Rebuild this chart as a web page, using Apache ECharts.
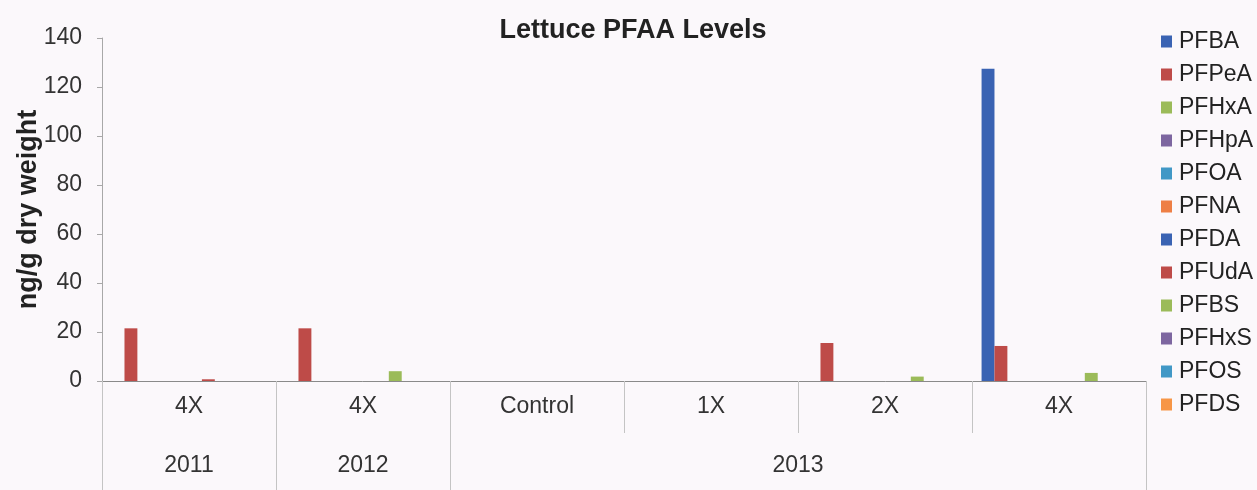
<!DOCTYPE html>
<html>
<head>
<meta charset="utf-8">
<script src="https://cdn.jsdelivr.net/npm/echarts@6/dist/echarts.min.js"></script>
<style>
html,body{margin:0;padding:0;background:#fbf8fb;}
#chart{width:1257px;height:490px;}
</style>
</head>
<body>
<div id="chart"></div>
<script>
// ---- data ----
var categories = ['4X', '4X', 'Control', '1X', '2X', '4X'];
var years = ['2011', '2012', '2013'];
var yearSpans = [1, 1, 4]; // number of categories under each year
var yTicks = [0, 20, 40, 60, 80, 100, 120, 140];

var seriesNames = ['PFBA','PFPeA','PFHxA','PFHpA','PFOA','PFNA','PFDA','PFUdA','PFBS','PFHxS','PFOS','PFDS'];
var PFBA  = [0, 0, 0, 0, 0, 127.5];
var PFPeA = [21.5, 21.5, 0, 0, 15.5, 14.3];
var PFHxA = [0, 0, 0, 0, 0, 0];
var PFHpA = [0, 0, 0, 0, 0, 0];
var PFOA  = [0, 0, 0, 0, 0, 0];
var PFNA  = [0, 0, 0, 0, 0, 0];
var PFDA  = [0, 0, 0, 0, 0, 0];
var PFUdA = [0.7, 0, 0, 0, 0, 0];
var PFBS  = [0, 4.0, 0, 0, 1.8, 3.3];
var PFHxS = [0, 0, 0, 0, 0, 0];
var PFOS  = [0, 0, 0, 0, 0, 0];
var PFDS  = [0, 0, 0, 0, 0, 0];
var seriesValues = [PFBA,PFPeA,PFHxA,PFHpA,PFOA,PFNA,PFDA,PFUdA,PFBS,PFHxS,PFOS,PFDS];

var colors = ['#3a63b3','#be4b48','#9bbb59','#7d66a0','#4198c6','#ee7f45',
              '#3a63b3','#be4b48','#9bbb59','#7d66a0','#4198c6','#f79646'];

// ---- year (second-level) axis built from spans: half-category slots ----
var halfSlots = [];
for (var i = 0; i <= categories.length * 2; i++) halfSlots.push(String(i));
var yearLabelAt = {};
var yearBoundary = {0: true};
var pos = 0;
for (var k = 0; k < years.length; k++) {
  yearLabelAt[pos + yearSpans[k]] = years[k];
  pos += yearSpans[k] * 2;
  yearBoundary[pos] = true;
}

var chart = echarts.init(document.getElementById('chart'));
var font = 'Liberation Sans, Arial, sans-serif';

chart.setOption({
  backgroundColor: '#fbf8fb',
  animation: false,
  title: {
    text: 'Lettuce PFAA Levels',
    left: 628, top: 12, textAlign: 'center',
    textStyle: {fontFamily: font, fontSize: 27, fontWeight: 'bold', color: '#222'}
  },
  legend: {
    orient: 'vertical',
    left: 1156, top: 25,
    itemWidth: 11, itemHeight: 12, itemGap: 10,
    icon: 'rect',
    data: seriesNames,
    textStyle: {fontFamily: font, fontSize: 23, color: '#222', padding: [0,0,0,2]}
  },
  grid: {left: 102, right: 111, top: 38, bottom: 109, containLabel: false, outerBoundsMode: 'none'},
  xAxis: [{
    type: 'category',
    data: categories,
    position: 'bottom',
    boundaryGap: true,
    axisLine: {show: true, lineStyle: {color: '#8a8a8a', width: 1}},
    axisTick: {show: true, interval: 0, length: 52, lineStyle: {color: '#c4c4c4'}},
    axisLabel: {interval: 0, margin: 14, fontFamily: font, fontSize: 23, color: '#333'}
  }, {
    type: 'category',
    data: halfSlots,
    position: 'bottom',
    offset: 52,
    boundaryGap: false,
    axisLine: {show: false},
    axisTick: {show: true, length: 60, lineStyle: {color: '#c4c4c4'},
      interval: function (idx) { return !!yearBoundary[idx]; }},
    axisLabel: {interval: 0, margin: 21, fontFamily: font, fontSize: 23, color: '#333',
      formatter: function (v) { return yearLabelAt[+v] || ''; }}
  }],
  yAxis: {
    type: 'value',
    min: yTicks[0], max: yTicks[yTicks.length - 1], interval: 20,
    name: 'ng/g dry weight',
    nameLocation: 'middle',
    nameGap: 60,
    nameMoveOverlap: false,
    nameTextStyle: {fontFamily: font, fontSize: 27, fontWeight: 'bold', color: '#222'},
    axisLine: {show: true, lineStyle: {color: '#a8a8a8'}},
    axisTick: {show: true, length: 5, lineStyle: {color: '#a8a8a8'}},
    splitLine: {show: false},
    axisLabel: {margin: 20, fontFamily: font, fontSize: 23, color: '#333'}
  },
  series: seriesNames.map(function (n, i) {
    return {
      name: n, type: 'bar', xAxisIndex: 0,
      data: seriesValues[i],
      itemStyle: {color: colors[i]},
      barGap: '0%', barCategoryGap: '11%'
    };
  })
});
</script>
</body>
</html>
